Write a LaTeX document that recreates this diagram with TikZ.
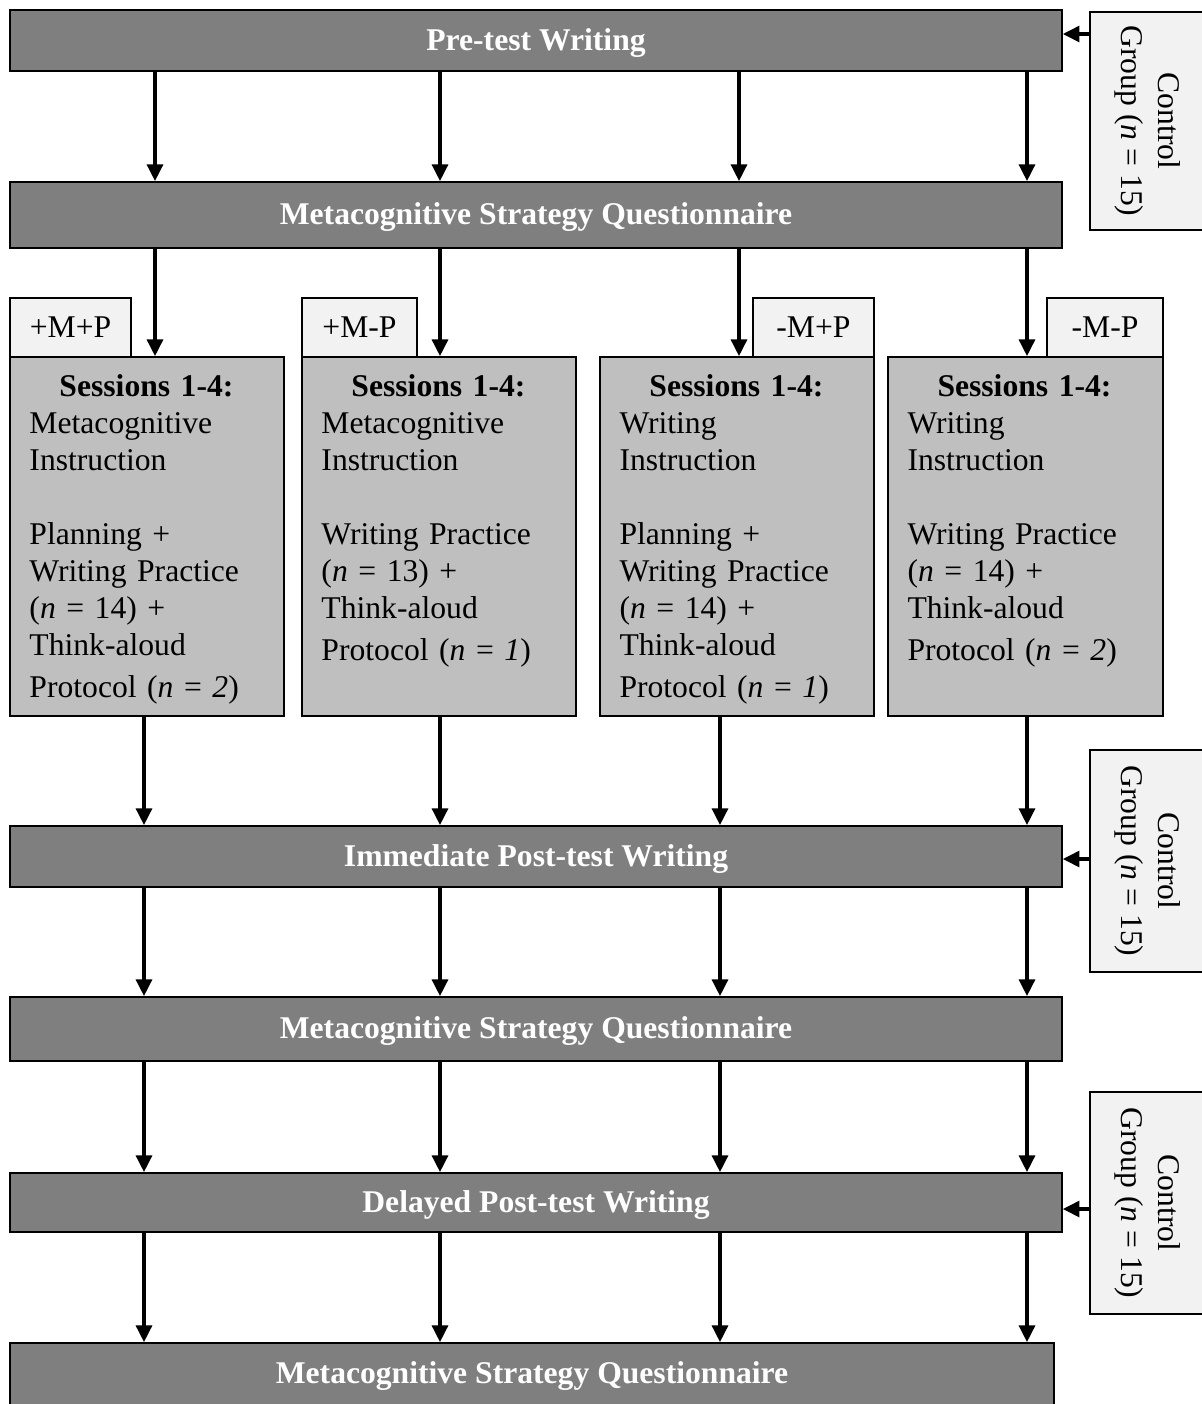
\documentclass[tikz,border=0pt]{standalone}
\usepackage{fontspec}
\setmainfont{Liberation Serif}
\usetikzlibrary{arrows.meta}

\definecolor{bargray}{HTML}{7F7F7F}
\definecolor{sessgray}{HTML}{BFBFBF}
\definecolor{taggray}{HTML}{F2F2F2}

\newcommand{\figfont}{\fontsize{18}{21}\selectfont}
\newcommand{\sess}[1]{\parindent=0pt\centering\textbf{Sessions 1-4:}\par\raggedright #1}

\tikzset{
  bar/.style={draw, line width=1pt, fill=bargray, text=white, font=\figfont\bfseries, minimum width=21.04cm, text height=12pt, text depth=1pt},
  sessbox/.style={draw, line width=1pt, fill=sessgray, minimum height=7.18cm},
  sesstext/.style={anchor=north west, text width=4.68cm, inner xsep=0.4cm, inner ysep=0.366cm},
  tag/.style={draw, line width=1pt, fill=taggray, minimum height=1.18cm},
  ctrl/.style={draw, line width=1pt, fill=taggray, rotate=-90, align=center, minimum height=2.3cm},
  arr/.style={line width=2pt, -{Triangle[length=9.5pt,width=9pt]}}
}

\begin{document}
\begin{tikzpicture}[x=0.02cm, y=-0.02cm, font=\figfont]
  \useasboundingbox (0,0) rectangle (1202,1404);

  % main steps
  \node[bar, minimum height=1.22cm] (pre) at (536,40.5) {Pre-test Writing};
  \node[bar, minimum height=1.32cm] (msq1) at (536,215) {Metacognitive Strategy Questionnaire};
  \node[bar, minimum height=1.22cm] (imm) at (536,856.5) {Immediate Post-test Writing};
  \node[bar, minimum height=1.28cm] (msq2) at (536,1029) {Metacognitive Strategy Questionnaire};
  \node[bar, minimum height=1.18cm] (del) at (536,1202.5) {Delayed Post-test Writing};
  \node[bar, minimum height=1.24cm, minimum width=20.88cm] (msq3) at (532,1374) {Metacognitive Strategy Questionnaire};

  % control group
  \node[ctrl, minimum width=4.36cm] (c1) at (1147.5,121) {Control\\Group (\textit{n} = 15)};
  \node[ctrl, minimum width=4.44cm] (c2) at (1147.5,861) {Control\\Group (\textit{n} = 15)};
  \node[ctrl, minimum width=4.44cm] (c3) at (1147.5,1203) {Control\\Group (\textit{n} = 15)};

  % groups
  \node[tag, minimum width=2.42cm] (g1) at (70.5,327.5) {+M+P};
  \node[tag, minimum width=2.3cm] (g2) at (359.5,327.5) {+M-P};
  \node[tag, minimum width=2.42cm] (g3) at (813.5,327.5) {-M+P};
  \node[tag, minimum width=2.32cm] (g4) at (1105,327.5) {-M-P};

  \node[sessbox, minimum width=5.48cm] (s1) at (147,536.5) {};
  \node[sessbox, minimum width=5.48cm] (s2) at (439,536.5) {};
  \node[sessbox, minimum width=5.48cm] (s3) at (737,536.5) {};
  \node[sessbox, minimum width=5.5cm] (s4) at (1025.5,536.5) {};

  \node[sesstext] (t1) at (s1.north west) {\sess{Metacognitive\\Instruction\\[21pt]Planning +\\Writing Practice\\(\textit{n} = 14) +\\Think-aloud\\[3pt]Protocol (\textit{n} = \textit{2})}};
  \node[sesstext] (t2) at (s2.north west) {\sess{Metacognitive\\Instruction\\[21pt]Writing Practice\\(\textit{n} = 13) +\\Think-aloud\\[3pt]Protocol (\textit{n} = \textit{1})}};
  \node[sesstext] (t3) at (s3.north west) {\sess{Writing\\Instruction\\[21pt]Planning +\\Writing Practice\\(\textit{n} = 14) +\\Think-aloud\\[3pt]Protocol (\textit{n} = \textit{1})}};
  \node[sesstext] (t4) at (s4.north west) {\sess{Writing\\Instruction\\[21pt]Writing Practice\\(\textit{n} = 14) +\\Think-aloud\\[3pt]Protocol (\textit{n} = \textit{2})}};

  % arrow columns
  \foreach \x [count=\i] in {155,440,739,1027} \coordinate (u\i) at (\x,0);
  \foreach \x [count=\i] in {144,440,720,1027} \coordinate (d\i) at (\x,0);

  \foreach \i in {1,...,4} {
    \draw[arr] (pre.south -| u\i) -- (msq1.north -| u\i);
    \draw[arr] (msq1.south -| u\i) -- (s\i.north -| u\i);
    \draw[arr] (s\i.south -| d\i) -- (imm.north -| d\i);
    \draw[arr] (imm.south -| d\i) -- (msq2.north -| d\i);
    \draw[arr] (msq2.south -| d\i) -- (del.north -| d\i);
    \draw[arr] (del.south -| d\i) -- (msq3.north -| d\i);
  }

  \draw[arr] ([yshift=0.13cm]pre.east -| c1.south) -- ([yshift=0.13cm]pre.east);
  \draw[arr] ([yshift=-0.05cm]imm.east -| c2.south) -- ([yshift=-0.05cm]imm.east);
  \draw[arr] ([yshift=-0.13cm]del.east -| c3.south) -- ([yshift=-0.13cm]del.east);
\end{tikzpicture}
\end{document}
